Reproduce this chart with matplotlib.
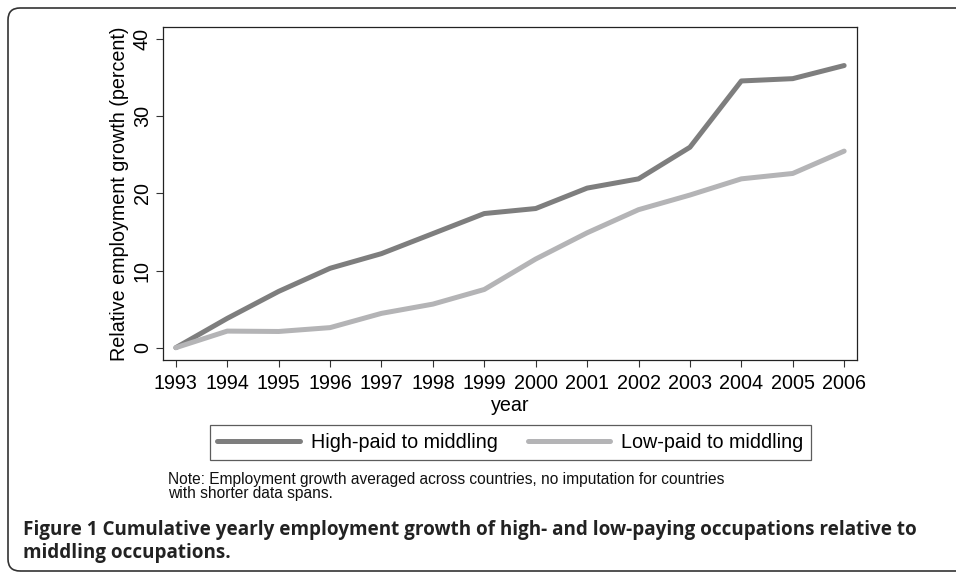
import matplotlib
matplotlib.use("Agg")
import matplotlib.pyplot as plt
from matplotlib.patches import FancyBboxPatch
from matplotlib.transforms import IdentityTransform

plt.rcParams['font.family'] = ['Liberation Sans', 'DejaVu Sans']

years = [1993, 1994, 1995, 1996, 1997, 1998, 1999, 2000, 2001, 2002, 2003, 2004, 2005, 2006]
high_paid = [0.0, 3.8, 7.3, 10.3, 12.2, 14.8, 17.4, 18.05, 20.7, 21.9, 26.0, 34.6, 34.9, 36.6]
low_paid = [0.0, 2.15, 2.1, 2.6, 4.45, 5.65, 7.55, 11.5, 14.9, 17.9, 19.8, 21.9, 22.6, 25.5]
series_names = ["High-paid to middling", "Low-paid to middling"]
note = ("Note: Employment growth averaged across countries, no imputation for countries\n"
        "with shorter data spans.")
caption = ("Figure 1 Cumulative yearly employment growth of high- and low-paying occupations relative to\n"
           "middling occupations.")

W, H = 956, 574
fs = 14.2
fig = plt.figure(figsize=(W / 100, H / 100), dpi=100)
ax = fig.add_axes([163 / W, 1 - 360 / H, (857 - 163) / W, (360 - 27) / H])

ax.plot(years, high_paid, color='#7e7e7e', lw=3.6, solid_capstyle='round', label=series_names[0])
ax.plot(years, low_paid, color='#b4b4b6', lw=3.6, solid_capstyle='round', label=series_names[1])

ax.set_xlim(1992.75, 2006.25)
ax.set_ylim(-1.6, 41.6)
ax.set_xticks(years)
ax.set_yticks([0, 10, 20, 30, 40])
ax.tick_params(axis='x', labelsize=fs, length=5, width=0.8, color='#333333', pad=5)
ax.tick_params(axis='y', labelsize=fs, length=5, width=0.8, color='#333333', pad=3,
               labelrotation=90)
for lbl in ax.get_yticklabels():
    lbl.set_va('center')
for s in ax.spines.values():
    s.set_color('#222222')
    s.set_linewidth(0.9)
ax.set_xlabel("year", fontsize=fs, labelpad=2)
ax.set_ylabel("Relative employment growth (percent)", fontsize=fs, labelpad=3)

fig.legend(loc='center', bbox_to_anchor=(510.5 / W, 1 - 442.6 / H), ncol=2,
           fontsize=fs, handlelength=4.2, handletextpad=0.55, columnspacing=1.5,
           frameon=True, fancybox=False, edgecolor='#333333', borderpad=0.4,
           borderaxespad=0)
fig.legends[0].get_frame().set_linewidth(0.9)

fig.text(168 / W, 1 - 486.5 / H, note, fontsize=11.2, va='center', ha='left',
         linespacing=0.97, color='#111111')
fig.text(23 / W, 1 - 541.5 / H, caption, fontsize=13.6, fontweight='bold',
         family=['Open Sans', 'DejaVu Sans'], va='center', ha='left',
         linespacing=1.25, color='#222222')

frame = FancyBboxPatch((8, 3), 1100, 563, boxstyle='round,pad=0,rounding_size=12',
                       transform=IdentityTransform(), fill=False,
                       edgecolor='#333333', linewidth=1.2)
fig.add_artist(frame)

fig.savefig("out.png", dpi=100)
